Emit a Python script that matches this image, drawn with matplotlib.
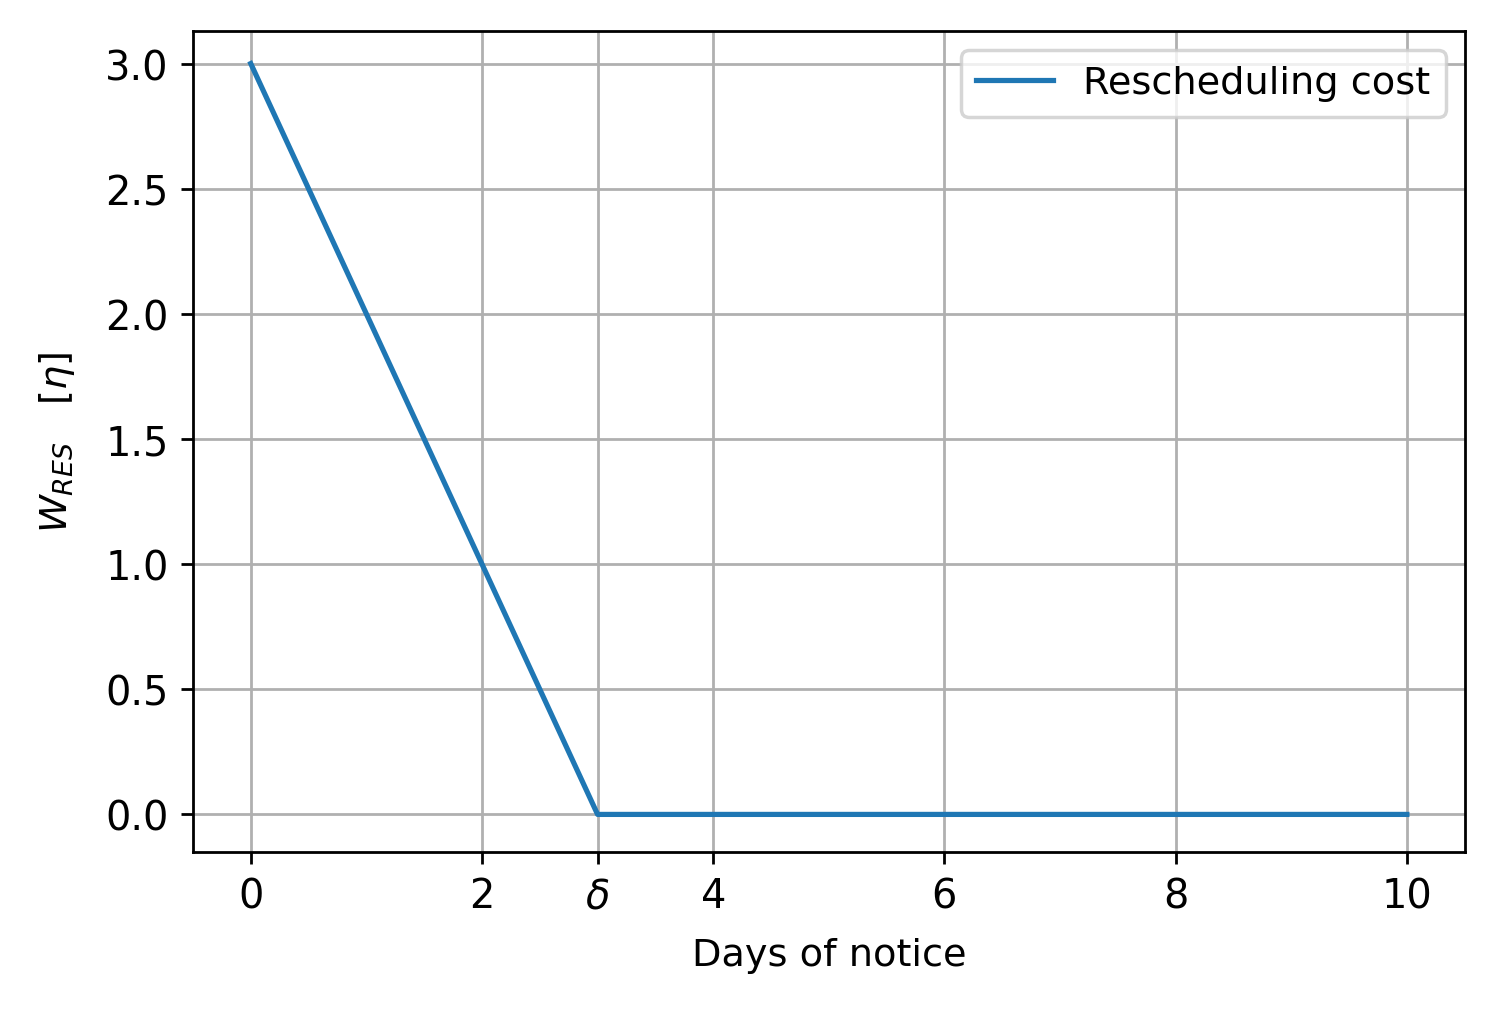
import numpy as np
import matplotlib.pyplot as plt

days = [0, 3, 10]  # days of notice
cost = [3.0, 0.0, 0.0]  # rescheduling cost
xticks = [0, 2, 3, 4, 6, 8, 10]
xticklabels = ['0', '2', r'$\delta$', '4', '6', '8', '10']

plt.rcParams['font.size'] = 11

fig = plt.figure(figsize=(5.96, 4.068), dpi=250)
ax = fig.add_axes([0.1295, 0.1613, 0.8535, 0.8072])
ax.plot(days, cost, label='Rescheduling cost')
ax.set_xticks(xticks)
ax.set_xticklabels(xticklabels)
ax.set_ylim(-0.15, 3.13)
ax.tick_params(labelsize=11.5)
ax.set_xlabel('Days of notice', labelpad=6)
ax.set_ylabel(r'$W_{RES} \quad [\eta]$', labelpad=8)
ax.grid(True)
ax.legend(loc='upper right')
fig.savefig('out.png')
